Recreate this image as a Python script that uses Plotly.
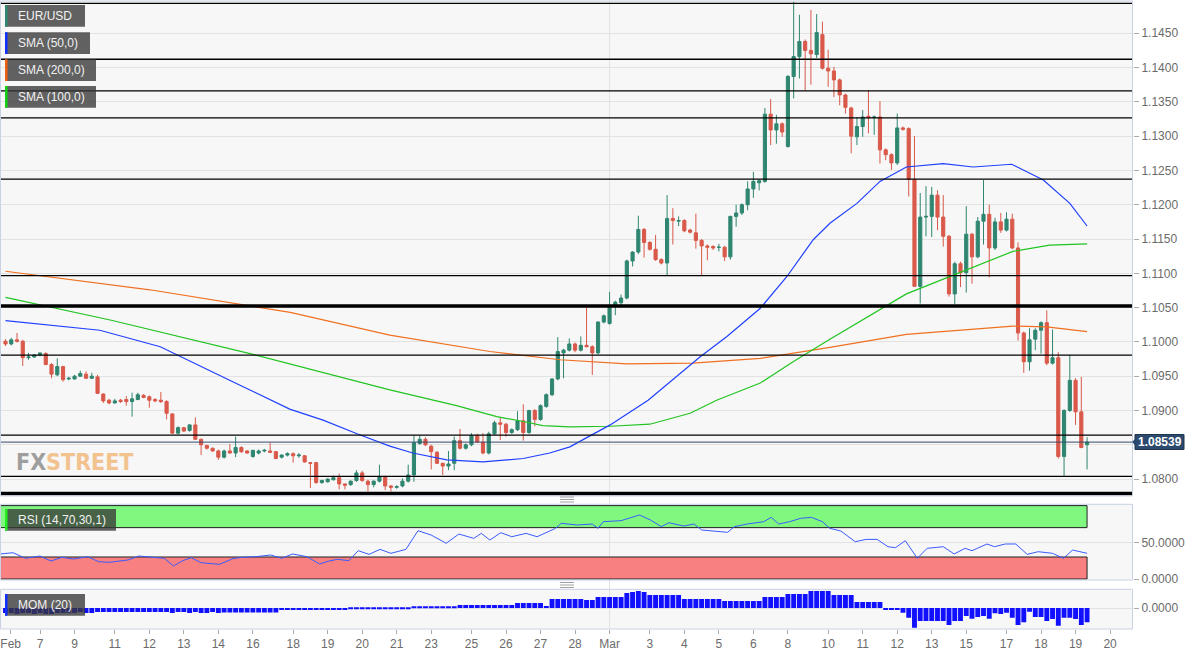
import plotly.graph_objects as go

# ---------------- DATA (4H EUR/USD candles, index 0 = Feb 6 00:00) ----------------
opens = [1.1001,1.0997,1.1003,1.1001,1.0977,1.0978,1.0981,1.0983,1.0967,1.0952,
1.0964,1.0946,1.0946,1.0950,1.0953,1.0947,1.0949,1.0924,1.0915,1.0911,
1.0915,1.0916,1.0913,1.0916,1.0922,1.0920,1.0916,1.0915,1.0913,1.0895,
1.0867,1.0875,1.0871,1.0879,1.0858,1.0849,1.0845,1.0841,1.0832,1.0841,
1.0838,1.0846,1.0841,1.0833,1.0838,1.0841,1.0841,1.0840,1.0832,1.0835,
1.0837,1.0834,1.0834,1.0824,1.0824,1.0795,1.0796,1.0799,1.0802,1.0793,
1.0792,1.0798,1.0809,1.0797,1.0792,1.0797,1.0803,1.0790,1.0788,1.0790,
1.0797,1.0806,1.0852,1.0858,1.0848,1.0839,1.0823,1.0819,1.0823,1.0856,
1.0845,1.0850,1.0863,1.0854,1.0838,1.0866,1.0882,1.0880,1.0868,1.0872,
1.0885,1.0868,1.0900,1.0887,1.0906,1.0923,1.0946,1.0984,1.0988,1.0997,
1.0988,1.0995,1.0993,1.0984,1.1029,1.1027,1.1052,1.1057,1.1064,1.1118,
1.1131,1.1164,1.1145,1.1135,1.1120,1.1115,1.1180,1.1176,1.1177,1.1163,
1.1159,1.1148,1.1140,1.1139,1.1138,1.1138,1.1124,1.1183,1.1188,1.1200,
1.1223,1.1232,1.1234,1.1332,1.1309,1.1318,1.1285,1.1387,1.1416,1.1438,
1.1425,1.1419,1.1448,1.1399,1.1395,1.1382,1.1360,1.1341,1.1299,1.1314,
1.1329,1.1327,1.1328,1.1280,1.1273,1.1261,1.1312,1.1311,1.1237,1.1081,
1.1182,1.1183,1.1214,1.1182,1.1154,1.1070,1.1114,1.1101,1.1157,1.1124,
1.1176,1.1186,1.1137,1.1175,1.1163,1.1179,1.1137,1.1013,1.0971,1.1004,
1.1017,1.1028,1.0969,1.0977,1.0833,1.0900,1.0944,1.0898,1.0850]

highs = [1.1004,1.1006,1.1013,1.1003,1.0984,1.0982,1.0984,1.0985,1.0969,1.0976,
1.0965,1.0949,1.0952,1.0958,1.0957,1.0955,1.0952,1.0925,1.0917,1.0917,
1.0917,1.0921,1.0926,1.0926,1.0924,1.0922,1.0918,1.0927,1.0915,1.0896,
1.0877,1.0876,1.0880,1.0890,1.0859,1.0850,1.0846,1.0843,1.0843,1.0851,
1.0862,1.0848,1.0842,1.0842,1.0843,1.0844,1.0853,1.0841,1.0836,1.0839,
1.0839,1.0838,1.0835,1.0825,1.0825,1.0799,1.0801,1.0805,1.0808,1.0793,
1.0798,1.0813,1.0812,1.0799,1.0798,1.0821,1.0805,1.0791,1.0791,1.0801,
1.0821,1.0864,1.0864,1.0861,1.0850,1.0841,1.0824,1.0841,1.0862,1.0873,
1.0852,1.0867,1.0866,1.0867,1.0869,1.0885,1.0889,1.0882,1.0874,1.0899,
1.0909,1.0901,1.0902,1.0909,1.0925,1.0947,1.1007,1.0990,1.1005,1.0999,
1.1008,1.1050,1.0995,1.1030,1.1040,1.1073,1.1060,1.1069,1.1120,1.1132,
1.1184,1.1166,1.1147,1.1156,1.1122,1.1214,1.1195,1.1183,1.1179,1.1165,
1.1187,1.1150,1.1142,1.1141,1.1143,1.1140,1.1184,1.1200,1.1202,1.1234,
1.1248,1.1237,1.1341,1.1354,1.1331,1.1320,1.1389,1.1496,1.1477,1.1441,
1.1484,1.1478,1.1467,1.1426,1.1401,1.1384,1.1362,1.1343,1.1328,1.1338,
1.1367,1.1330,1.1351,1.1282,1.1275,1.1333,1.1314,1.1313,1.1300,1.1217,
1.1227,1.1226,1.1221,1.1214,1.1156,1.1117,1.1117,1.1198,1.1159,1.1182,
1.1236,1.1200,1.1181,1.1188,1.1189,1.1187,1.1145,1.1015,1.1020,1.1020,
1.1030,1.1046,1.1018,1.0985,1.0902,1.0981,1.0947,1.0949,1.0861]

lows = [1.0994,1.0995,1.0999,1.0965,1.0974,1.0977,1.0979,1.0966,1.0947,1.0950,
1.0942,1.0944,1.0945,1.0949,1.0946,1.0946,1.0924,1.0911,1.0909,1.0910,
1.0911,1.0907,1.0891,1.0915,1.0918,1.0904,1.0912,1.0911,1.0887,1.0866,
1.0865,1.0869,1.0869,1.0857,1.0835,1.0843,1.0840,1.0828,1.0830,1.0837,
1.0832,1.0838,1.0837,1.0831,1.0836,1.0839,1.0838,1.0829,1.0830,1.0833,
1.0824,1.0831,1.0824,1.0787,1.0793,1.0793,1.0795,1.0798,1.0785,1.0785,
1.0790,1.0796,1.0796,1.0782,1.0788,1.0795,1.0784,1.0782,1.0786,1.0788,
1.0795,1.0796,1.0850,1.0848,1.0814,1.0822,1.0806,1.0813,1.0813,1.0843,
1.0843,1.0848,1.0853,1.0836,1.0836,1.0864,1.0857,1.0862,1.0866,1.0870,
1.0856,1.0866,1.0877,1.0885,1.0904,1.0921,1.0944,1.0947,1.0986,1.0985,
1.0986,1.0992,1.0952,1.0982,1.1027,1.1025,1.1039,1.1050,1.1062,1.1110,
1.1128,1.1123,1.1133,1.1118,1.1113,1.1096,1.1142,1.1169,1.1160,1.1158,
1.1136,1.1096,1.1119,1.1134,1.1132,1.1118,1.1120,1.1168,1.1185,1.1192,
1.1210,1.1221,1.1232,1.1287,1.1289,1.1299,1.1283,1.1355,1.1384,1.1366,
1.1375,1.1414,1.1397,1.1372,1.1357,1.1345,1.1333,1.1275,1.1287,1.1299,
1.1304,1.1302,1.1260,1.1265,1.1251,1.1258,1.1308,1.1212,1.1080,1.1056,
1.1154,1.1153,1.1163,1.1139,1.1066,1.1055,1.1080,1.1072,1.1085,1.1122,
1.1142,1.1094,1.1134,1.1159,1.1161,1.1135,1.1002,1.0955,1.0958,1.0988,
1.0983,1.0966,1.0967,1.0830,1.0803,1.0898,1.0879,1.0845,1.0814]

closes = [1.0997,1.1003,1.1001,1.0977,1.0978,1.0981,1.0984,1.0967,1.0953,1.0964,
1.0945,1.0947,1.0950,1.0954,1.0947,1.0950,1.0925,1.0914,1.0911,1.0914,
1.0913,1.0913,1.0917,1.0923,1.0919,1.0915,1.0914,1.0913,1.0896,1.0867,
1.0875,1.0870,1.0879,1.0858,1.0850,1.0845,1.0841,1.0832,1.0841,1.0838,
1.0846,1.0840,1.0838,1.0842,1.0841,1.0842,1.0839,1.0830,1.0835,1.0837,
1.0834,1.0835,1.0825,1.0823,1.0795,1.0798,1.0800,1.0802,1.0793,1.0791,
1.0797,1.0809,1.0798,1.0792,1.0797,1.0803,1.0790,1.0788,1.0789,1.0797,
1.0806,1.0853,1.0858,1.0850,1.0840,1.0823,1.0819,1.0822,1.0856,1.0845,
1.0850,1.0863,1.0854,1.0838,1.0866,1.0882,1.0880,1.0868,1.0872,1.0885,
1.0868,1.0900,1.0887,1.0907,1.0923,1.0946,1.0986,1.0988,1.0997,1.0988,
1.0995,1.0993,1.0984,1.1029,1.1038,1.1052,1.1058,1.1064,1.1118,1.1131,
1.1164,1.1145,1.1135,1.1120,1.1115,1.1180,1.1177,1.1177,1.1162,1.1160,
1.1148,1.1140,1.1138,1.1137,1.1138,1.1124,1.1183,1.1188,1.1200,1.1223,
1.1234,1.1235,1.1332,1.1309,1.1318,1.1306,1.1387,1.1416,1.1438,1.1425,
1.1420,1.1451,1.1399,1.1395,1.1382,1.1360,1.1342,1.1300,1.1314,1.1328,
1.1327,1.1328,1.1280,1.1273,1.1261,1.1312,1.1310,1.1237,1.1081,1.1182,
1.1183,1.1214,1.1182,1.1154,1.1070,1.1114,1.1101,1.1157,1.1124,1.1176,
1.1186,1.1137,1.1175,1.1163,1.1179,1.1137,1.1013,1.0971,1.1003,1.1017,
1.1028,1.0969,1.0977,1.0833,1.0900,1.0944,1.0898,1.0846,1.08539]

# SMA lines (candle index, price)
sma50_x = [0,16.4,26.9,29.8,39.5,49.4,55.2,61.1,66.8,70.8,76.7,83,90,94.6,98.1,105.1,111.7,120.7,125.4,131.2,135.8,140.4,143.3,148,152,156.6,163,168.2,174.9,180.4,185,188]
sma50_y = [1.1031,1.1017,1.0993,1.0981,1.0942,1.0902,1.0886,1.0866,1.0848,1.0838,1.0828,1.0825,1.0830,1.0838,1.0847,1.0879,1.0915,1.0978,1.1008,1.1049,1.1095,1.1149,1.1173,1.1202,1.1234,1.1255,1.1260,1.1255,1.1259,1.1236,1.1202,1.1169]
sma200_x = [0,25.1,49.5,66.8,84.2,96.4,108,119.5,131.2,143.3,156.6,166.4,175.1,181,188]
sma200_y = [1.1103,1.1076,1.1043,1.1010,1.0986,1.0974,1.0968,1.0969,1.0976,1.0992,1.1011,1.1017,1.1023,1.1022,1.1015]
sma100_x = [0,18.2,42.5,49.5,66.8,78.4,85.4,90,93.4,98.1,105.1,112,119,123.6,131.2,136.9,143.3,156.6,166.5,175.1,181.5,188]
sma100_y = [1.1065,1.1032,1.0983,1.0968,1.0930,1.0907,1.0891,1.0884,1.0878,1.0876,1.0877,1.0880,1.0896,1.0915,1.0940,1.0971,1.1004,1.1070,1.1103,1.1132,1.1141,1.1143]

# RSI (14)
rsi_x = [-1,1.3,3.5,6,7.9,9.8,11.8,14.3,16.2,18.1,21.3,23.2,25.7,27.6,29.2,30.8,32.3,34,37.2,39.5,41,43.5,46.1,48,49.9,52.4,54.6,56.2,57.7,59.7,61.3,63.2,65.1,67,69.6,71.7,74,76.6,78.8,81.4,82.7,84.2,86.1,88,90.5,92.4,95.6,96.6,99.4,102,103,103.9,107,110.2,112.1,114,115.3,117.9,119.7,121,125.5,126.7,128.9,131.8,133.1,134.4,136.3,138.2,140.1,142,143.3,145.2,147.7,149.6,151.5,153.4,154.7,156.4,158.5,160.2,163,164.9,166.8,168,170.6,171.9,173.8,175.6,177.6,179.5,182,183.9,185.5,187.7,188]
rsi_y = [34.1,35.8,28.2,31.3,24.5,29.5,27.2,30.4,23.6,22.7,25.9,31.3,29.5,28.2,17.7,25,29,22.2,20,27.7,29.5,30.4,32.7,28.2,34.1,30.4,20.4,24.5,26.8,25,38.6,33.6,40.4,35,40.4,65.8,59.9,48.6,61.3,55.4,62.2,53.1,63.1,57.6,62.2,57.6,69,75.9,73.6,74.9,69,78.1,79.5,87.2,80.4,71.3,76.7,72.2,74.9,66.8,63.6,71.3,74.9,78.1,84,74.9,78.1,82.7,84,78.1,69,65.4,50.8,54,54,44,42.7,52.2,28.2,41.8,44,34.1,41.8,38.6,47.7,44,47.7,47.7,33.6,37.2,35,28.2,39.5,35.8,35]

# Momentum (20) per candle
mom = [-0.0085,-0.0085,-0.0102,-0.0085,-0.0085,-0.0102,-0.0085,-0.0102,-0.0102,-0.0085,
-0.0085,-0.0085,-0.0085,-0.0068,-0.0085,-0.0085,-0.0068,-0.0068,-0.0068,-0.0068,
-0.0068,-0.0068,-0.0068,-0.0068,-0.0068,-0.0068,-0.0068,-0.0068,-0.0068,-0.0085,
-0.0068,-0.0068,-0.0085,-0.0068,-0.0085,-0.0085,-0.0068,-0.0085,-0.0077,-0.0077,
-0.0077,-0.0077,-0.0077,-0.0077,-0.0077,-0.0077,-0.0077,-0.0077,-0.0034,-0.0034,
-0.0034,-0.0034,-0.0034,-0.0034,-0.0034,-0.0034,-0.0034,-0.0034,-0.0034,-0.0034,
-0.0017,-0.0017,-0.0017,-0.0017,-0.0017,-0.0017,-0.0017,-0.0017,-0.0017,-0.0017,
-0.0017,0.0017,0.0017,0.0017,0.0017,0.0017,0.0017,0.0017,0.0017,0.0051,
0.0051,0.0051,0.0051,0.0051,0.0051,0.0051,0.0051,0.0051,0.0051,0.0085,
0.0085,0.0085,0.0085,0.0085,0.0034,0.0153,0.0153,0.0153,0.0153,0.0153,
0.0153,0.0136,0.0136,0.0187,0.0187,0.0187,0.0187,0.0187,0.0255,0.0272,
0.0289,0.0272,0.0221,0.0221,0.0221,0.0221,0.0221,0.0221,0.0153,0.0153,
0.0153,0.0153,0.0153,0.0153,0.0153,0.0119,0.0119,0.0119,0.0119,0.0119,
0.0119,0.0119,0.0187,0.0187,0.0187,0.0187,0.0238,0.0238,0.0238,0.0238,
0.0289,0.0289,0.0289,0.0289,0.0221,0.0221,0.0221,0.0221,0.0102,0.0102,
0.0102,0.0102,0.0102,-0.0034,-0.0034,-0.0034,-0.0080,-0.0165,-0.0335,-0.0221,
-0.0221,-0.0221,-0.0221,-0.0221,-0.0289,-0.0221,-0.0221,-0.0136,-0.0182,-0.0153,
-0.0136,-0.0182,-0.0090,-0.0102,-0.0080,-0.0165,-0.0289,-0.0243,-0.0063,-0.0153,
-0.0153,-0.0221,-0.0187,-0.0301,-0.0165,-0.0165,-0.0187,-0.0289,-0.0243]

tick_idx = [0.9,6,12,19,25,31,37,43,50,56,62,68,74,81,87,93,99,105,112,118,124,130,136,143,149,155,161,167,174,180,186,192]
tick_txt = ['Feb','7','9','11','12','13','14','16','18','19','20','21','23','25','26','27','28','Mar','3','4','5','6','8','10','11','12','13','15','17','18','19','20']

levels = [1.14937,1.14121,1.13659,1.13265,1.12372,1.10965,1.09808,1.08640,1.08039]
thick_levels = [1.10525,1.07788]
last_price = 1.08539
price_ticks = [1.0800,1.0850,1.0900,1.0950,1.1000,1.1050,1.1100,1.1150,1.1200,1.1250,1.1300,1.1350,1.1400,1.1450]
price_tick_txt = ['1.0800','','1.0900','1.0950','1.1000','1.1050','1.1100','1.1150','1.1200','1.1250','1.1300','1.1350','1.1400','1.1450']

# ---------------- LAYOUT HELPERS (pixel -> paper) ----------------
W, H = 1203, 655
PL, PR, PT, PB = 0, 1133, 1, 629
def X(px):
    return (px - PL) / (PR - PL)
def Y(py):
    return (PB - py) / (PB - PT)

FONT = "Arial, Liberation Sans, sans-serif"
idx = list(range(len(opens)))

fig = go.Figure()

fig.add_trace(go.Candlestick(
    x=idx, open=opens, high=highs, low=lows, close=closes,
    increasing=dict(fillcolor="#2f8670", line=dict(color="#2f8670", width=1)),
    decreasing=dict(fillcolor="#d9594a", line=dict(color="#d9594a", width=1)),
    whiskerwidth=0, hoverinfo="skip", showlegend=False, xaxis="x", yaxis="y"))

fig.add_trace(go.Scatter(x=sma200_x, y=sma200_y, mode="lines", line=dict(color="#f07020", width=1.2), showlegend=False, yaxis="y"))
fig.add_trace(go.Scatter(x=sma100_x, y=sma100_y, mode="lines", line=dict(color="#22c422", width=1.2), showlegend=False, yaxis="y"))
fig.add_trace(go.Scatter(x=sma50_x, y=sma50_y, mode="lines", line=dict(color="#2040ff", width=1.2), showlegend=False, yaxis="y"))

fig.add_trace(go.Scatter(x=rsi_x, y=rsi_y, mode="lines", line=dict(color="#3a5cff", width=1), showlegend=False, yaxis="y2"))

fig.add_trace(go.Bar(x=idx, y=mom, marker=dict(color="#1010ff", line=dict(width=0)), showlegend=False, yaxis="y3"))

xr = [(0 - 5.5) / 5.753, (1133 - 5.5) / 5.753]
main_dom = [Y(496), 1.0]
rsi_dom = [Y(580), Y(504.3)]
mom_dom = [0.0, Y(589.3)]

axis_font = dict(family=FONT, size=12, color="#6b6b6b")

fig.update_layout(
    width=W, height=H,
    margin=dict(l=PL, r=W - PR, t=PT, b=H - PB),
    paper_bgcolor="white", plot_bgcolor="#f7f7f7",
    bargap=0.15, boxgap=0.22,
    xaxis=dict(domain=[0, 1], range=xr, anchor="y3", tickmode="array",
               tickvals=tick_idx, ticktext=tick_txt, ticks="outside", ticklen=4,
               tickcolor="#aaaaaa", showgrid=False, zeroline=False, showline=False,
               tickfont=axis_font, ticklabeloverflow="allow",
               rangeslider=dict(visible=False)),
    yaxis=dict(domain=main_dom, range=[1.14985 - 0.0001458 * 496, 1.14985 - 0.0001458 * 1],
               side="right", anchor="x", tickmode="array", tickvals=price_ticks,
               ticktext=price_tick_txt, ticks="outside", ticklen=5, tickcolor="#aaaaaa",
               gridcolor="#e2e2e2", zeroline=False, showline=False, tickfont=axis_font),
    yaxis2=dict(domain=rsi_dom, range=[-1.36, 101.8], side="right", anchor="x",
                tickmode="array", tickvals=[0, 50], ticktext=["0.0000", "50.0000"],
                ticks="outside", ticklen=5, tickcolor="#aaaaaa", gridcolor="#e2e2e2",
                zeroline=False, showline=False, tickfont=axis_font),
    yaxis3=dict(domain=mom_dom, range=[-21 * 0.0017, 18.7 * 0.0017], side="right", anchor="x",
                tickmode="array", tickvals=[0], ticktext=["0.0000"],
                ticks="outside", ticklen=5, tickcolor="#aaaaaa", gridcolor="#e2e2e2",
                zeroline=False, showline=False, tickfont=axis_font),
)

shapes = []
# month separator
shapes.append(dict(type="line", xref="x", yref="paper", x0=105, x1=105, y0=0, y1=1,
                   line=dict(color="#e2e2e2", width=1), layer="below"))
# RSI bands
shapes.append(dict(type="rect", xref="x", yref="y2", x0=xr[0], x1=188, y0=70, y1=100,
                   fillcolor="#80f880", line=dict(color="#222222", width=1), layer="below"))
shapes.append(dict(type="rect", xref="x", yref="y2", x0=xr[0], x1=188, y0=0, y1=30,
                   fillcolor="#f88080", line=dict(color="#222222", width=1), layer="below"))
# horizontal levels
for lv in levels:
    shapes.append(dict(type="line", xref="paper", yref="y", x0=0, x1=1, y0=lv, y1=lv,
                       line=dict(color="black", width=1.3)))
for lv in thick_levels:
    shapes.append(dict(type="line", xref="paper", yref="y", x0=0, x1=1, y0=lv, y1=lv,
                       line=dict(color="black", width=3.5)))
shapes.append(dict(type="line", xref="paper", yref="y", x0=0, x1=1, y0=last_price, y1=last_price,
                   line=dict(color="#34496a", width=1)))
# panel borders
for (t, b) in [(PT, 496), (504.3, 580), (589.3, PB)]:
    shapes.append(dict(type="rect", xref="paper", yref="paper", x0=X(0.5), x1=X(1132.5),
                       y0=Y(b), y1=Y(t), line=dict(color="#c9d1e3", width=1)))
# grips
for gy in [497, 499.5, 502, 582.5, 585, 587.5]:
    shapes.append(dict(type="line", xref="paper", yref="paper", x0=X(560), x1=X(574),
                       y0=Y(gy), y1=Y(gy), line=dict(color="#8a8a8a", width=0.8)))

# legend boxes
boxes = [("EUR/USD", 5, 85, 5, 26.7, "#2f8670"),
         ("SMA (50,0)", 5, 90, 32.3, 54, "#1030ff"),
         ("SMA (200,0)", 5, 96, 59.3, 81, "#f06010"),
         ("SMA (100,0)", 5, 96, 86, 107.7, "#12d012"),
         ("RSI (14,70,30,1)", 5, 116, 509, 530.7, "#22ee22"),
         ("MOM (20)", 5, 85, 594, 615.7, "#1030ff")]
annotations = []
for txt, x0, x1, y0, y1, col in boxes:
    shapes.append(dict(type="rect", xref="paper", yref="paper", x0=X(x0), x1=X(x1),
                       y0=Y(y1), y1=Y(y0), fillcolor="rgba(55,55,55,0.78)", line=dict(width=0)))
    shapes.append(dict(type="rect", xref="paper", yref="paper", x0=X(x0), x1=X(x0 + 2.5),
                       y0=Y(y1), y1=Y(y0), fillcolor=col, line=dict(width=0)))
    annotations.append(dict(xref="paper", yref="paper", x=X(16), y=Y((y0 + y1) / 2),
                            xanchor="left", yanchor="middle", showarrow=False, text=txt,
                            font=dict(family=FONT, size=12, color="#f2f2f2")))

# last price tag
shapes.append(dict(type="rect", xref="paper", yref="paper", x0=X(1135), x1=X(1184),
                   y0=Y(449.5), y1=Y(434.5), fillcolor="#2c4a6e", line=dict(color="#1f3550", width=1)))
shapes.append(dict(type="path", xref="paper", yref="paper",
                   path=f"M {X(1132)} {Y(442)} L {X(1135.5)} {Y(438.5)} L {X(1135.5)} {Y(445.5)} Z",
                   fillcolor="#2c4a6e", line=dict(width=0)))
annotations.append(dict(xref="paper", yref="paper", x=X(1159.5), y=Y(442), xanchor="center",
                        yanchor="middle", showarrow=False, text="<b>1.08539</b>",
                        font=dict(family=FONT, size=12, color="white")))

# watermark
annotations.append(dict(xref="paper", yref="paper", x=X(14), y=Y(462), xanchor="left", yanchor="middle",
                        showarrow=False,
                        text="<b><span style='color:#9a9a9a'>FX</span><span style='color:#f2c08a'>STREET</span></b>",
                        font=dict(family="DejaVu Sans Condensed, DejaVu Sans, sans-serif", size=23),
                        opacity=0.95))

fig.update_layout(shapes=shapes, annotations=annotations)

fig.write_html("out.html", config={"displayModeBar": False},
               post_script="document.body.style.margin='0px';document.body.style.overflow='hidden';")
